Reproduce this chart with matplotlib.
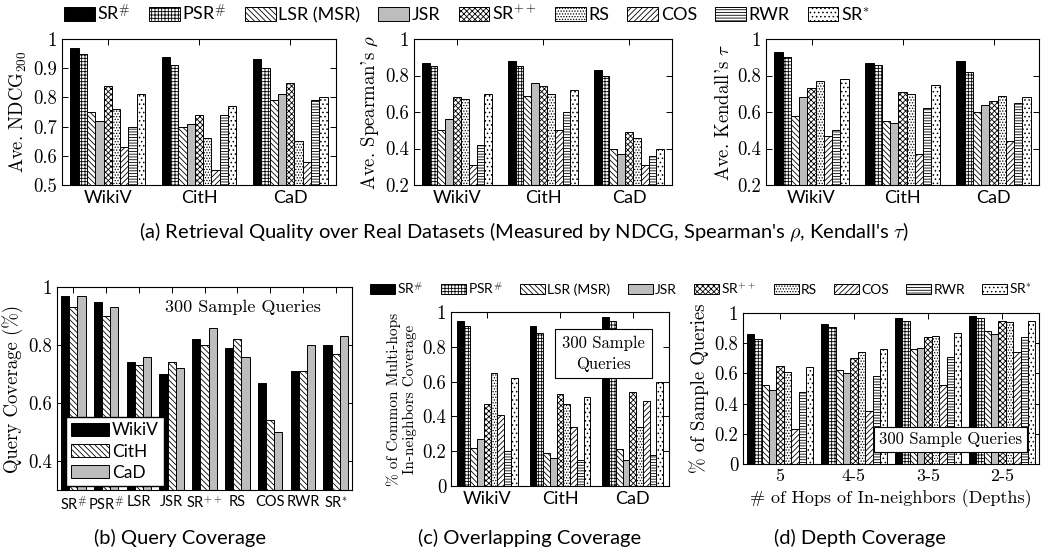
import matplotlib
matplotlib.use('Agg')
import matplotlib.pyplot as plt
import numpy as np
from matplotlib.patches import Patch
from matplotlib.ticker import FuncFormatter

plt.rcParams['mathtext.fontset'] = 'cm'
plt.rcParams['hatch.linewidth'] = 0.6
plt.rcParams['axes.linewidth'] = 0.8

SERIF = 'cmr10'
SANS = ['Lato', 'DejaVu Sans']

# ---- data ----
methods = ['SR$^{\\#}$', 'PSR$^{\\#}$', 'LSR (MSR)', 'JSR', 'SR$^{++}$', 'RS', 'COS', 'RWR', 'SR$^{*}$']
short_methods = ['SR$^{\\#}$', 'PSR$^{\\#}$', 'LSR', 'JSR', 'SR$^{++}$', 'RS', 'COS', 'RWR', 'SR$^{*}$']
datasets = ['WikiV', 'CitH', 'CaD']
depths = ['5', '4-5', '3-5', '2-5']

# rows = datasets, cols = methods
ndcg = [[0.97, 0.95, 0.75, 0.72, 0.84, 0.76, 0.63, 0.70, 0.81],
        [0.94, 0.91, 0.70, 0.71, 0.74, 0.66, 0.55, 0.74, 0.77],
        [0.93, 0.90, 0.79, 0.81, 0.85, 0.65, 0.58, 0.79, 0.80]]
spearman = [[0.87, 0.85, 0.50, 0.56, 0.68, 0.67, 0.31, 0.42, 0.70],
            [0.88, 0.85, 0.69, 0.76, 0.74, 0.70, 0.50, 0.60, 0.72],
            [0.83, 0.80, 0.40, 0.37, 0.49, 0.46, 0.31, 0.36, 0.40]]
kendall = [[0.93, 0.90, 0.58, 0.68, 0.73, 0.77, 0.47, 0.50, 0.78],
           [0.87, 0.86, 0.55, 0.54, 0.71, 0.70, 0.37, 0.62, 0.75],
           [0.88, 0.82, 0.60, 0.64, 0.66, 0.69, 0.44, 0.65, 0.68]]

# rows = methods, cols = datasets (WikiV, CitH, CaD)
query_cov = [[0.97, 0.93, 0.97],
             [0.95, 0.90, 0.93],
             [0.74, 0.73, 0.76],
             [0.70, 0.74, 0.72],
             [0.82, 0.80, 0.86],
             [0.79, 0.82, 0.76],
             [0.67, 0.54, 0.50],
             [0.71, 0.71, 0.80],
             [0.80, 0.77, 0.83]]

# rows = datasets, cols = methods
overlap = [[0.95, 0.92, 0.22, 0.27, 0.47, 0.65, 0.41, 0.20, 0.62],
           [0.92, 0.88, 0.19, 0.16, 0.53, 0.47, 0.34, 0.15, 0.51],
           [0.97, 0.95, 0.21, 0.15, 0.54, 0.34, 0.49, 0.18, 0.60]]

# rows = depths, cols = methods
depth_cov = [[0.86, 0.83, 0.52, 0.49, 0.65, 0.61, 0.23, 0.48, 0.64],
             [0.93, 0.91, 0.62, 0.60, 0.70, 0.74, 0.35, 0.58, 0.76],
             [0.97, 0.95, 0.76, 0.77, 0.84, 0.85, 0.52, 0.71, 0.87],
             [0.98, 0.97, 0.88, 0.86, 0.95, 0.94, 0.74, 0.84, 0.95]]

# ---- styles ----
GRAY = '#bdbdbd'
m_faces = ['black', 'white', 'white', GRAY, 'white', 'white', 'white', 'white', 'white']
m_hatches = [None, '+++++', '\\\\\\\\\\\\', None, 'xxxxxx', '......', '//////', '------', '....']
d_faces = ['black', 'white', GRAY]
d_hatches = [None, '\\\\\\\\\\\\', None]

W, H = 1048, 554
fig = plt.figure(figsize=(W / 100, H / 100), dpi=100)


def add_ax(l, r, t, b):
    return fig.add_axes([l / W, 1 - b / H, (r - l) / W, (b - t) / H])


def grouped(ax, values, width, faces, hatches):
    x = np.arange(len(values))
    n = len(values[0])
    for j in range(n):
        off = (j - (n - 1) / 2) * width
        ax.bar(x + off, [row[j] for row in values], width, color=faces[j],
               hatch=hatches[j], edgecolor='black', linewidth=0.7, zorder=2)
    ax.set_xlim(-0.5, len(values) - 0.5)
    ax.set_xticks(x)


def style(ax, ylim, yticks, ysize=13.5):
    ax.set_ylim(*ylim)
    ax.set_yticks(yticks)
    ax.yaxis.set_major_formatter(FuncFormatter(lambda v, p: '%g' % v))
    ax.tick_params(direction='in', top=True, right=True, length=4, width=0.7)
    for lab in ax.get_yticklabels():
        lab.set_fontfamily(SERIF)
        lab.set_fontsize(ysize)


# ---- (a) ----
top = [(62, 336, ndcg, (0.5, 1), np.arange(0.5, 1.01, 0.1), 'Ave. NDCG$_{200}$'),
       (414, 672, spearman, (0.2, 1), np.arange(0.2, 1.01, 0.2), "Ave. Spearman's $\\rho$"),
       (766, 1039, kendall, (0.2, 1), np.arange(0.2, 1.01, 0.2), "Ave. Kendall's $\\tau$")]
for l, r, vals, yl, yt, lab in top:
    ax = add_ax(l, r, 39, 185)
    grouped(ax, vals, 0.091, m_faces, m_hatches)
    style(ax, yl, yt)
    ax.set_xticklabels(datasets, family=SANS, fontsize=13)
    ax.set_ylabel(lab, family=SERIF, fontsize=13.5, labelpad=3)

handles = [Patch(facecolor=f, hatch=h, edgecolor='black', linewidth=0.7)
           for f, h in zip(m_faces, m_hatches)]
fig.legend(handles, methods, loc='center left', bbox_to_anchor=(64 / W, 1 - 13 / H),
           ncol=9, frameon=False, prop={'family': SANS, 'size': 13},
           handlelength=1.7, handleheight=0.75, handletextpad=0.15, columnspacing=1.0,
           borderaxespad=0, borderpad=0)

fig.text(524 / W, 1 - 232 / H,
         "(a) Retrieval Quality over Real Datasets (Measured by NDCG, Spearman's $\\rho$, Kendall's $\\tau$)",
         ha='center', va='center', family=SANS, fontsize=14.5)

# ---- (b) ----
ax = add_ax(57, 352, 287, 490)
grouped(ax, query_cov, 0.25, d_faces, d_hatches)
style(ax, (0.3, 1), [0.4, 0.6, 0.8, 1.0])
ax.set_xticklabels(short_methods, family=SANS, fontsize=10.5)
ax.set_ylabel('Query Coverage (%)', family=SERIF, fontsize=13.5)
ax.text(0.63, 0.90, '300 Sample Queries', transform=ax.transAxes, ha='center', va='center',
        family=SERIF, fontsize=13)
dh = [Patch(facecolor=f, hatch=h, edgecolor='black', linewidth=0.7)
      for f, h in zip(d_faces, d_hatches)]
ax.legend(dh, datasets, loc='lower left', bbox_to_anchor=(0.03, 0.02),
          prop={'family': SANS, 'size': 12.5}, fancybox=False, edgecolor='black',
          framealpha=1, handlelength=2.2, handleheight=0.8, handletextpad=0.15,
          borderaxespad=0, borderpad=0.3, labelspacing=0.3)
fig.text(180 / W, 1 - 538 / H, '(b) Query Coverage', ha='center', va='center',
         family=SANS, fontsize=14.5)

# ---- (c) ----
ax = add_ax(451, 669, 312, 486)
grouped(ax, overlap, 0.093, m_faces, m_hatches)
style(ax, (0, 1), [0, 0.2, 0.4, 0.6, 0.8, 1.0])
ax.set_xticklabels(datasets, family=SANS, fontsize=13)
ax.set_ylabel('% of Common Multi-hops\nIn-neighbors Coverage', family=SERIF, fontsize=11,
              linespacing=1.1)
ax.text(0.70, 0.76, '300 Sample\nQueries', transform=ax.transAxes, ha='center', va='center',
        family=SERIF, fontsize=12, linespacing=1.4,
        bbox=dict(boxstyle='square,pad=0.4', fc='white', ec='black', lw=0.8), zorder=5)
fig.legend(handles, methods, loc='center left', bbox_to_anchor=(370 / W, 1 - 288 / H),
           ncol=9, frameon=False, prop={'family': SANS, 'size': 10},
           handlelength=1.8, handleheight=0.75, handletextpad=0.15, columnspacing=1.25,
           borderaxespad=0, borderpad=0)
fig.text(530 / W, 1 - 538 / H, '(c) Overlapping Coverage', ha='center', va='center',
         family=SANS, fontsize=14.5)

# ---- (d) ----
ax = add_ax(743, 1039, 313, 464)
grouped(ax, depth_cov, 0.1, m_faces, m_hatches)
style(ax, (0, 1), [0, 0.2, 0.4, 0.6, 0.8, 1.0])
ax.set_xticklabels(depths, family=SERIF, fontsize=13)
ax.set_xlabel('# of Hops of In-neighbors (Depths)', family=SERIF, fontsize=13)
ax.set_ylabel('% of Sample Queries', family=SERIF, fontsize=13.5)
ax.text(0.70, 0.16, '300 Sample Queries', transform=ax.transAxes, ha='center', va='center',
        family=SERIF, fontsize=12,
        bbox=dict(boxstyle='square,pad=0.3', fc='white', ec='black', lw=0.8), zorder=5)
fig.text(860 / W, 1 - 538 / H, '(d) Depth Coverage', ha='center', va='center',
         family=SANS, fontsize=14.5)

fig.savefig('out.png', dpi=100)
